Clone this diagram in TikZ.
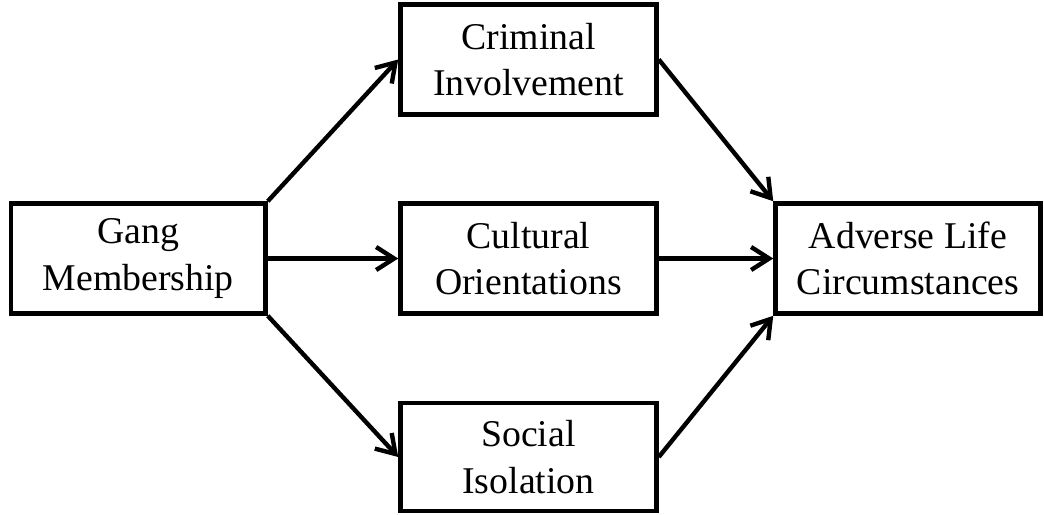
\documentclass[tikz,border=0pt]{standalone}
\usepackage{fontspec}
\setmainfont{Liberation Serif}
\usetikzlibrary{arrows.meta}

\begin{document}
\begin{tikzpicture}[
  box/.style={draw, line width=2.6pt, align=center, inner sep=0,
    minimum height=2.2cm, font=\fontsize{21.5}{26.5}\selectfont},
  link/.style={line width=2.5pt, -{Straight Barb[length=3.6mm, width=4.6mm]}}
]
\useasboundingbox (0,0) rectangle (20.88,-10.28);

\node[box, minimum width=5.09cm] (gang) at (2.765,-5.17) {Gang\\Membership};
\node[box, minimum width=5.12cm] (crim) at (10.57,-1.19) {Criminal\\Involvement};
\node[box, minimum width=5.12cm] (cult) at (10.57,-5.17) {Cultural\\Orientations};
\node[box, minimum width=5.12cm, minimum height=2.16cm] (soc) at (10.57,-9.14) {Social\\Isolation};
\node[box, minimum width=5.3cm] (adv) at (18.16,-5.17) {Adverse Life\\Circumstances};

\draw[link] (gang.north east) -- (crim.west);
\draw[link] (gang.east) -- (cult.west);
\draw[link] (gang.south east) -- (soc.west);

\draw[link] (crim.east) -- (adv.north west);
\draw[link] (cult.east) -- (adv.west);
\draw[link] (soc.east) -- (adv.south west);

\end{tikzpicture}
\end{document}
